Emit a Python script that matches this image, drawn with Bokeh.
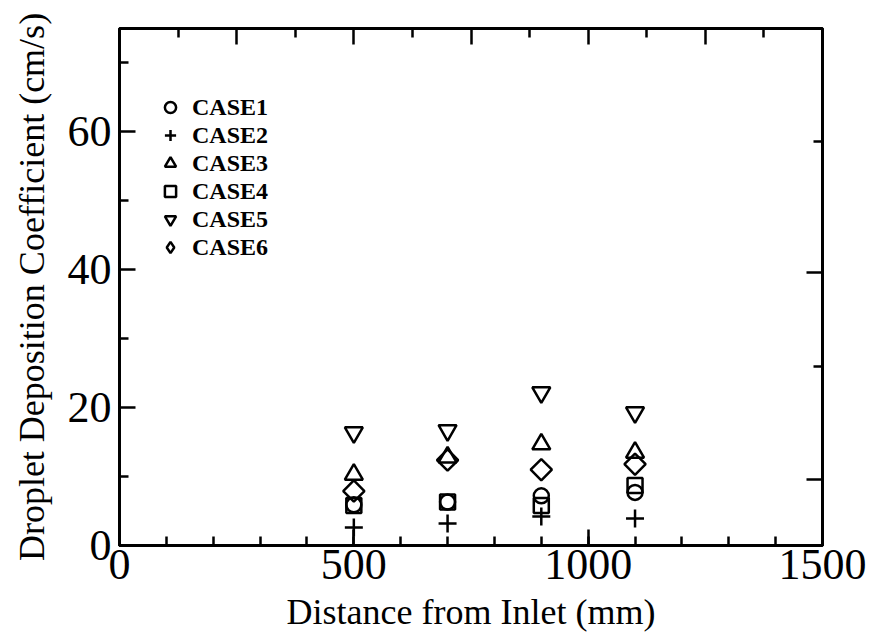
import math
from bokeh.plotting import figure
from bokeh.models import Range1d, LinearAxis, FixedTicker, Legend, LegendItem, CustomJSTickFormatter
from bokeh.embed import file_html
from bokeh.resources import INLINE

# ---- data ----
distance = [500, 700, 900, 1100]
case1 = [5.9, 6.3, 7.2, 7.7]
case2 = [2.6, 3.2, 4.2, 3.9]
case3 = [10.3, 12.8, 14.7, 13.5]
case4 = [5.8, 6.3, 5.8, 8.7]
case5 = [16.4, 16.7, 22.2, 19.3]
case6 = [7.9, 12.4, 11.0, 11.8]
labels = ["CASE1", "CASE2", "CASE3", "CASE4", "CASE5", "CASE6"]

x_major = [0, 500, 1000, 1500]
x_minor = list(range(0, 1501, 100))
y_major = [0, 20, 40, 60]
y_minor = [10, 30, 50, 70]
top_major = [250, 500, 750, 1000, 1250]
top_minor = [125, 375, 625, 875, 1125, 1375]
right_major = [9.6, 39.6]
right_minor = [25.9, 58.6]

FONT = "Liberation Serif"

p = figure(width=869, height=638, output_backend="svg", toolbar_location=None,
           x_range=Range1d(0, 1500), y_range=Range1d(0, 75),
           min_border_left=119, min_border_right=47, min_border_top=28, min_border_bottom=93,
           x_axis_label="Distance from Inlet (mm)",
           y_axis_label="Droplet Deposition Coefficient (cm/s)")
p.grid.visible = False
p.outline_line_color = "black"
p.outline_line_width = 3
p.background_fill_color = "white"
p.border_fill_color = "white"

for ax, maj, mnr in ((p.xaxis[0], x_major, x_minor), (p.yaxis[0], y_major, y_minor)):
    ax.ticker = FixedTicker(ticks=maj, minor_ticks=mnr)
    ax.axis_line_width = 3
    ax.major_tick_in = 16
    ax.major_tick_out = 0
    ax.minor_tick_in = 9
    ax.minor_tick_out = 0
    ax.major_tick_line_width = 2.5
    ax.minor_tick_line_width = 2.5
    ax.major_label_text_font = FONT
    ax.major_label_text_font_size = "44px"
    ax.major_label_text_color = "black"
    ax.axis_label_text_font = FONT
    ax.axis_label_text_font_style = "normal"
    ax.axis_label_text_color = "black"

p.xaxis.axis_label_text_font_size = "36px"
p.yaxis.axis_label_text_font_size = "36px"
p.xaxis.major_label_standoff = 4
p.xaxis.axis_label_standoff = 10
p.yaxis.major_label_standoff = 8
p.yaxis.axis_label_standoff = 13

# mirrored tick-only axes on the top and right frame edges
blank = CustomJSTickFormatter(code="return ''")
top = LinearAxis(ticker=FixedTicker(ticks=top_major, minor_ticks=top_minor), formatter=blank)
right = LinearAxis(ticker=FixedTicker(ticks=right_major, minor_ticks=right_minor), formatter=blank)
for ax in (top, right):
    ax.axis_line_width = 3
    ax.major_tick_in = 16
    ax.major_tick_out = 0
    ax.minor_tick_in = 9
    ax.minor_tick_out = 0
    ax.major_tick_line_width = 2.5
    ax.minor_tick_line_width = 2.5
    ax.major_label_standoff = 0
p.add_layout(top, "above")
p.add_layout(right, "right")

lw = 2.5
r1 = p.scatter(distance, case1, marker="circle", size=15, fill_color=None, line_color="black", line_width=lw)
r2 = p.scatter(distance, case2, marker="cross", size=18, line_color="black", line_width=lw)
r3 = p.scatter(distance, case3, marker="triangle", size=18, fill_color=None, line_color="black", line_width=lw)
r4 = p.scatter(distance, case4, marker="square", size=15, fill_color=None, line_color="black", line_width=lw)
r5 = p.scatter(distance, case5, marker="inverted_triangle", size=18, fill_color=None, line_color="black", line_width=lw)
r6 = p.scatter(distance, case6, marker="square", angle=math.pi / 4, size=15, fill_color=None,
               line_color="black", line_width=lw)
# hidden twin used only as the legend key (legend keys are drawn without rotation)
r6_key = p.scatter(distance, case6, marker="diamond", size=15, fill_color=None,
                   line_color="black", line_width=lw, visible=False)

# one single-entry legend per row, so that the row pitch can match the reference
row_offsets = [424, 396, 368, 340, 312, 284]
for lab, rend, off in zip(labels, [r1, r2, r3, r4, r5, r6_key], row_offsets):
    lg = Legend(items=[LegendItem(label=lab, renderers=[rend])], location=(36, off))
    lg.label_text_font = FONT
    lg.label_text_font_size = "24px"
    lg.label_text_font_style = "bold"
    lg.label_text_color = "black"
    lg.label_standoff = 7
    lg.glyph_width = 30
    lg.glyph_height = 28
    lg.label_height = 28
    lg.spacing = 0
    lg.padding = 0
    lg.margin = 0
    lg.border_line_alpha = 0
    lg.background_fill_alpha = 0
    p.add_layout(lg)

open("out.html", "w").write(file_html(p, INLINE))
